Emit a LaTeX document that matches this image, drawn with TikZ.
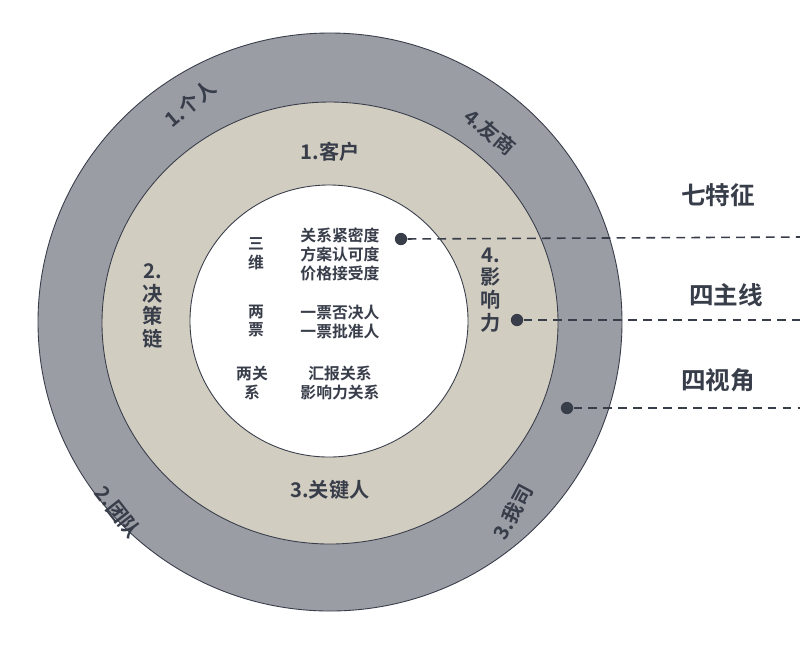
\documentclass[tikz,border=0pt]{standalone}
\usepackage{fontspec}
\setmainfont{Noto Sans CJK SC Bold}
\definecolor{outerring}{HTML}{9B9DA5}
\definecolor{midring}{HTML}{D2CDC1}
\definecolor{inktext}{HTML}{383D4A}
\begin{document}
\begin{tikzpicture}[x=0.02cm,y=-0.02cm,
    ring label/.style={text=inktext,font=\fontsize{11.5}{13}\selectfont},
    inner label/.style={text=inktext,font=\fontsize{9}{10.8}\selectfont,align=center},
    side label/.style={text=inktext,font=\fontsize{14}{16}\selectfont},
    marker/.style={circle,fill=inktext,inner sep=0pt,minimum size=7pt},
    leader/.style={draw=inktext,dash pattern=on 5pt off 3.5pt,line width=0.9pt}]
    \useasboundingbox (0,0) rectangle (800,647);
    \fill[white] (0,0) rectangle (800,647);

    \draw[fill=outerring,draw=inktext,line width=0.5pt] (330,322) ellipse [x radius=292,y radius=289];
    \draw[fill=midring,draw=inktext,line width=0.5pt] (330,323) ellipse [x radius=228,y radius=221];
    \draw[fill=white,draw=inktext,line width=0.5pt] (329,321) ellipse [x radius=139,y radius=136];

    % outer ring
    \node[ring label,rotate=40,inner sep=0pt] (individual) at (190,104) {1.个人};
    \node[ring label,rotate=-40,inner sep=0pt] (rival) at (490,132) {4.友商};
    \node[ring label,rotate=-52,inner sep=0pt] (team) at (118,512) {2.团队};
    \node[ring label,rotate=62,inner sep=0pt] (ourco) at (513,512) {3.我司};

    % middle ring
    \node[ring label] (client) at (330,152) {1.客户};
    \node[ring label,align=center] (chain) at (153,306) {2.\\[0pt]决\\[0pt]策\\[0pt]链};
    \node[ring label,align=center] (power) at (491,290) {4.\\[0pt]影\\[0pt]响\\[0pt]力};
    \node[ring label] (keyman) at (330,490) {3.关键人};

    % inner circle
    \node[inner label] (three) at (256,254) {三\\维};
    \node[inner label] (threetxt) at (340,254) {关系紧密度\\方案认可度\\价格接受度};
    \node[inner label] (two) at (256,321) {两\\票};
    \node[inner label] (twotxt) at (340,322) {一票否决人\\一票批准人};
    \node[inner label] (rel) at (252,383) {两关\\系};
    \node[inner label] (reltxt) at (340,383) {汇报关系\\影响力关系};

    % right side
    \node[side label] (seven) at (718,195) {七特征};
    \node[side label] (four) at (726,295) {四主线};
    \node[side label] (view) at (718,380) {四视角};

    \node[marker] (m1) at (401,239) {};
    \node[marker] (m2) at (517,320) {};
    \node[marker] (m3) at (567,408) {};
    \coordinate (e1) at (800,237);
    \coordinate (e2) at (800,320);
    \coordinate (e3) at (800,408);
    \draw[leader] (m1) -- (e1);
    \draw[leader] (m2) -- (e2);
    \draw[leader] (m3) -- (e3);
\end{tikzpicture}
\end{document}
